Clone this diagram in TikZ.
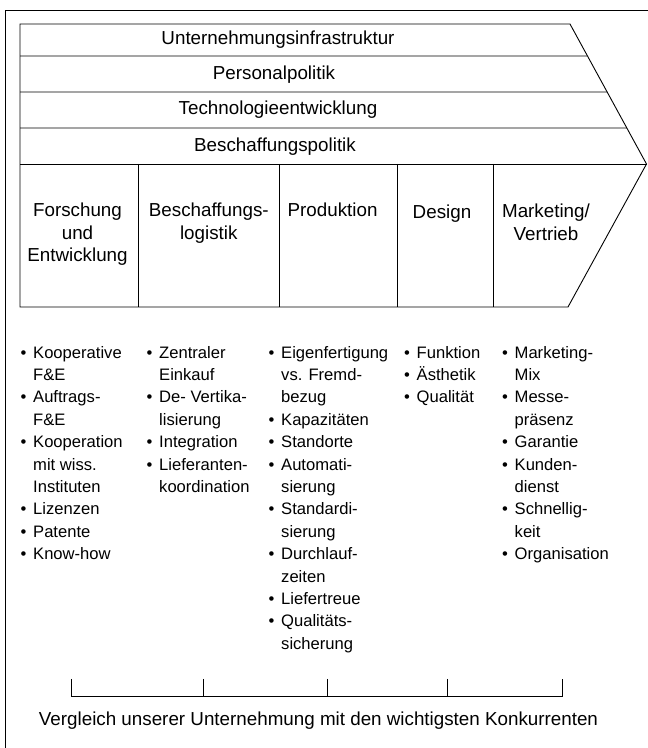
\documentclass[tikz,border=0pt]{standalone}
\usepackage{fontspec}
\setmainfont{Liberation Sans}
\usetikzlibrary{positioning,calc}

\tikzset{
  linie/.style={line width=0.9pt, line join=miter},
  band/.style={anchor=base, inner sep=0pt, font=\fontsize{18.8}{22.5}\selectfont},
  kopf/.style={anchor=north, inner sep=0pt, align=center, font=\fontsize{18.8}{22.5}\selectfont},
  liste/.style={anchor=north west, inner sep=0pt, font=\fontsize{16.6}{22.4}\selectfont}
}
\newcommand{\pkt}{\textbullet}

\begin{document}
\begin{tikzpicture}[x=1pt, y=1pt]
        \useasboundingbox (0,0) rectangle (648,748);

        % Rahmen
        \draw[linie] (648,738) -- (5,738) -- (5,0);

        % Wertkette
        \coordinate (tl) at (20,724);
        \coordinate (tr) at (570,724);
        \coordinate (tip) at (646.5,584);
        \coordinate (br) at (568,441);
        \coordinate (bl) at (20,441);
        \draw[linie] (tl) -- (tr) -- (tip) -- (br) -- (bl) -- cycle;
        \foreach \y in {692,656,620}
            \draw[linie] (20,\y) -- ($(tr)!{(724-\y)/140}!(tip)$);
        \draw[linie] (20,584) -- (tip);
        \foreach \x in {138,279,397.5,493}
            \draw[linie] (\x,584) -- (\x,441);

        \node[band] (infra) at (278,703.5) {Unternehmungsinfrastruktur};
        \node[band] (personal) at (274,668.7) {Personalpolitik};
        \node[band] (technik) at (278,633) {Technologieentwicklung};
        \node[band] (beschaff) at (275,596.3) {Beschaffungspolitik};

        \node[kopf] (fue) at (77.5,545) {Forschung\\und\\Entwicklung};
        \node[kopf] (logistik) at (208.8,545) {Beschaffungs-\\logistik};
        \node[kopf] (prod) at (332.6,545) {Produktion};
        \node[kopf] (design) at (442,543) {Design};
        \node[kopf] (marketing) at (546,544) {Marketing/\\Vertrieb};

        % Listen
        \node[liste] (lfue) at (20.4,405.7) {\begin{tabular}{@{}p{12.6pt}@{}l@{}}
            \pkt & Kooperative\\ & F\&E\\
            \pkt & Auftrags-\\ & F\&E\\
            \pkt & Kooperation\\ & mit wiss.\\ & Instituten\\
            \pkt & Lizenzen\\
            \pkt & Patente\\
            \pkt & Know-how
        \end{tabular}};
        \node[liste] (llogistik) at (146.4,405.7) {\begin{tabular}{@{}p{12.6pt}@{}l@{}}
            \pkt & Zentraler\\ & Einkauf\\
            \pkt & De- Vertika-\\ & lisierung\\
            \pkt & Integration\\
            \pkt & Lieferanten-\\ & koordination
        \end{tabular}};
        \node[liste] (lprod) at (268.4,405.7) {\begin{tabular}{@{}p{12.6pt}@{}l@{}}
            \pkt & Eigenfertigung\\ & vs. Fremd-\\ & bezug\\
            \pkt & Kapazitäten\\
            \pkt & Standorte\\
            \pkt & Automati-\\ & sierung\\
            \pkt & Standardi-\\ & sierung\\
            \pkt & Durchlauf-\\ & zeiten\\
            \pkt & Liefertreue\\
            \pkt & Qualitäts-\\ & sicherung
        \end{tabular}};
        \node[liste] (ldesign) at (403.9,405.7) {\begin{tabular}{@{}p{12.6pt}@{}l@{}}
            \pkt & Funktion\\
            \pkt & Ästhetik\\
            \pkt & Qualität
        \end{tabular}};
        \node[liste] (lmarketing) at (501.9,405.7) {\begin{tabular}{@{}p{12.6pt}@{}l@{}}
            \pkt & Marketing-\\ & Mix\\
            \pkt & Messe-\\ & präsenz\\
            \pkt & Garantie\\
            \pkt & Kunden-\\ & dienst\\
            \pkt & Schnellig-\\ & keit\\
            \pkt & Organisation
        \end{tabular}};

        % Vergleich
        \draw[linie] (71,69) -- (71,51.3) -- (562,51.3) -- (562,69);
        \foreach \x in {203.7,327.7,447}
            \draw[linie] (\x,69) -- (\x,51.3);
        \node[band] (vergleich) at (318.5,23) {Vergleich unserer Unternehmung mit den wichtigsten Konkurrenten};

    \end{tikzpicture}
\end{document}
